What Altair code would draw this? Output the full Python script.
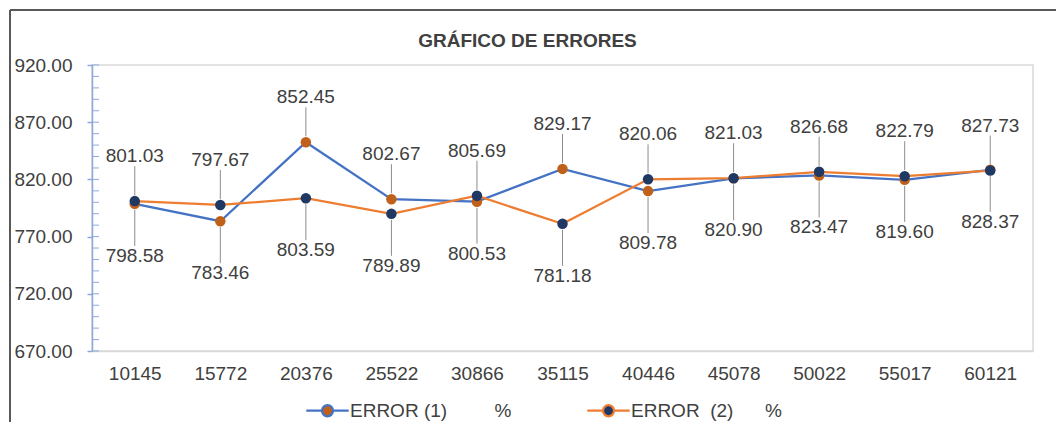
import altair as alt
import pandas as pd

# ---------------- data ----------------
categorias = ["10145", "15772", "20376", "25522", "30866", "35115",
              "40446", "45078", "50022", "55017", "60121"]
error_1 = [798.58, 783.46, 852.45, 802.67, 800.53, 829.17,
           809.78, 820.90, 823.47, 819.60, 828.37]
error_2 = [801.03, 797.67, 803.59, 789.89, 805.69, 781.18,
           820.06, 821.03, 826.68, 822.79, 827.73]
# True where the ERROR (1) label sits above its point (the other series goes below)
etiqueta_1_arriba = [False, False, True, True, False, True,
                     False, False, False, False, False]
NB = "\u00a0"
series = ["ERROR (1)" + NB * 9 + "%", "ERROR" + NB * 2 + "(2)" + NB * 6 + "%"]
titulo = "GRÁFICO DE ERRORES"
y_ticks = [670, 720, 770, 820, 870, 920]
y_minor = list(range(670, 921, 10))

rows = []
for i, c in enumerate(categorias):
    up1 = etiqueta_1_arriba[i]
    rows.append({"cat": c, "serie": series[0], "valor": error_1[i],
                 "pos": "arriba" if up1 else "abajo"})
    rows.append({"cat": c, "serie": series[1], "valor": error_2[i],
                 "pos": "abajo" if up1 else "arriba"})
df = pd.DataFrame(rows)

# ---------------- style ----------------
FONT = "Liberation Sans"
TXT = "#404040"
AX = "#8EA9DB"
BLUE = "#4472C4"
ORANGE = "#ED7D31"
BROWN = "#C0611B"
NAVY = "#1F3864"
W, H = 941, 286

PATH = ("M-1,0L-0.26,0M0.26,0L1,0"
        "M-0.26,0A0.26,0.26,0,1,1,0.26,0A0.26,0.26,0,1,1,-0.26,0Z")

legend = alt.Legend(title=None, orient="none", legendX=213, legendY=323,
                    direction="horizontal", symbolType=PATH, symbolSize=1800,
                    symbolStrokeWidth=2.25, labelFontSize=19, labelFont=FONT,
                    labelColor=TXT, columnPadding=70, labelOffset=0,
                    padding=0, labelLimit=500)

y_scale = alt.Scale(domain=[670, 920], nice=False, zero=False)
y_axis = alt.Axis(title=None, values=y_ticks, format=".2f",
                  tickSize=5, tickColor=AX, tickWidth=1.5,
                  domainColor=AX, domainWidth=1.5,
                  labelPadding=15, labelFontSize=19,
                  labelFont=FONT, labelColor=TXT, grid=False)
x_enc = alt.X("cat:O", sort=categorias,
              scale=alt.Scale(type="point", padding=0.5),
              axis=alt.Axis(title=None, labelAngle=0, ticks=False,
                            domainColor="#d9d9d9", domainWidth=1.5,
                            labelFontSize=19, labelColor=TXT,
                            labelFont=FONT, labelPadding=13))
y_enc = alt.Y("valor:Q", scale=y_scale, axis=y_axis)

stroke_enc = alt.Stroke("serie:N", scale=alt.Scale(domain=series, range=[BLUE, ORANGE]),
                        legend=legend)
fill_enc = alt.Fill("serie:N", scale=alt.Scale(domain=series, range=[BROWN, NAVY]),
                    legend=legend)

base = alt.Chart(df)

layers = []
for s in series:
    sub = base.transform_filter(alt.datum.serie == s)
    layers.append(sub.mark_line(strokeWidth=2.25).encode(x=x_enc, y=y_enc, stroke=stroke_enc))
    layers.append(sub.mark_point(filled=True, size=110, opacity=1).encode(
        x=x_enc, y=y_enc, fill=fill_enc))

minor = alt.Chart(pd.DataFrame({"valor": y_minor})).mark_rule(
    color=AX, strokeWidth=1).encode(
    y=alt.Y("valor:Q", scale=y_scale, axis=y_axis),
    x=alt.value(0), x2=alt.value(7))
layers.append(minor)

up = base.transform_filter(alt.datum.pos == "arriba")
down = base.transform_filter(alt.datum.pos == "abajo")

layers.append(up.mark_rule(color="#8c8c8c", strokeWidth=1, yOffset=-6, y2Offset=-35).encode(
    x=x_enc, y=y_enc, y2=alt.Y2("valor:Q")))
layers.append(down.mark_rule(color="#8c8c8c", strokeWidth=1, yOffset=6, y2Offset=42).encode(
    x=x_enc, y=y_enc, y2=alt.Y2("valor:Q")))
layers.append(up.mark_text(dy=-45, baseline="middle", fontSize=19, font=FONT, color=TXT).encode(
    x=x_enc, y=y_enc, text=alt.Text("valor:Q", format=".2f")))
layers.append(down.mark_text(dy=52, baseline="middle", fontSize=19, font=FONT, color=TXT).encode(
    x=x_enc, y=y_enc, text=alt.Text("valor:Q", format=".2f")))

single = alt.Data(values=[{"t": titulo}])
layers.append(alt.Chart(single).mark_text(
    fontSize=19, fontWeight="bold", font=FONT, color=TXT,
    align="center", baseline="alphabetic").encode(
    text="t:N", x=alt.value(435.5), y=alt.value(-18)))
layers.append(alt.Chart(single).mark_rule(color="#595959", strokeWidth=2).encode(
    x=alt.value(-82), x2=alt.value(964), y=alt.value(-55)))
layers.append(alt.Chart(single).mark_rule(color="#595959", strokeWidth=2).encode(
    x=alt.value(-82), y=alt.value(-55), y2=alt.value(357)))

chart = alt.layer(*layers).properties(
    width=W, height=H,
    autosize=alt.AutoSizeParams(type="none"),
    padding={"left": 84, "top": 57, "right": 23, "bottom": 71},
    background="white",
).configure_view(stroke="#d9d9d9", strokeWidth=1.5)

chart.save("out.html", embed_options={"renderer": "svg", "actions": False})
